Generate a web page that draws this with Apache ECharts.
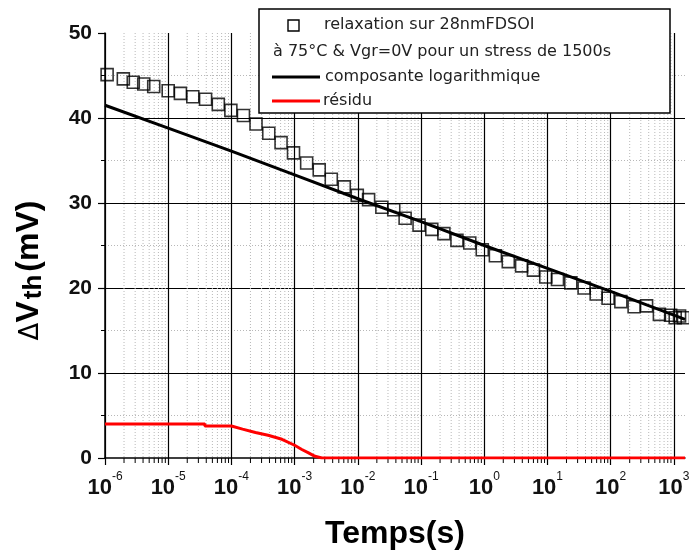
<!DOCTYPE html>
<html><head><meta charset="utf-8">
<script src="https://cdn.jsdelivr.net/npm/echarts@6/dist/echarts.min.js"></script>
<style>html,body{margin:0;padding:0;background:#fff}#c{width:689px;height:559px}</style>
</head><body><div id="c"></div>
<script>
// relaxation measurements (s, mV)
const relaxTime = [1.08e-6,1.95e-6,2.8e-6,4.1e-6,5.9e-6,1.0e-5,1.56e-5,2.45e-5,3.9e-5,6.2e-5,9.8e-5,1.55e-4,2.45e-4,3.9e-4,6.1e-4,9.6e-4,1.55e-3,2.45e-3,3.8e-3,6.1e-3,9.8e-3,1.48e-2,2.4e-2,3.7e-2,5.6e-2,9.3e-2,0.148,0.23,0.37,0.59,0.93,1.5,2.4,3.9,6.0,9.4,14.4,23.4,38,59,91,145,235,370,590,890,1050,1230,1420];
const relaxDVth = [45.1,44.6,44.2,44.0,43.7,43.2,42.9,42.5,42.2,41.6,40.9,40.3,39.3,38.2,37.1,35.9,34.7,33.9,32.8,31.9,30.9,30.4,29.5,29.2,28.2,27.4,26.9,26.4,25.6,25.3,24.5,23.8,23.1,22.6,22.1,21.3,21.0,20.6,20.0,19.3,18.8,18.4,17.8,17.9,16.9,16.8,16.5,16.7,16.5];
// logarithmic component
const logTime = [1e-6,1e-5,1e-4,1e-3,1e-2,1e-1,1,10,100,1000,1500];
const logDVth = [41.5,38.8,36.1,33.3,30.5,27.8,25.0,22.3,19.6,16.8,16.3];
// residual
const resTime = [1e-6,3.8e-5,3.8e-5,1e-4,1.5e-4,2.4e-4,3.8e-4,6.3e-4,1e-3,1.3e-3,1.66e-3,2.1e-3,2.7e-3,1500];
const resDVth = [4.0,4.0,3.76,3.76,3.4,3.0,2.67,2.2,1.5,1.0,0.6,0.2,0,0];
// axis ticks
const xMajorTicks = [1e-6,1e-5,1e-4,1e-3,1e-2,1e-1,1,10,100,1000];
const xMinorMultipliers = [2,3,4,5,6,7,8,9];
const legendLines = ['relaxation sur 28nmFDSOI','à 75°C & Vgr=0V pour un stress de 1500s','composante logarithmique','résidu'];

const xMinorTicks = [];
for (let i = 0; i < xMajorTicks.length - 1; i++) for (const m of xMinorMultipliers) xMinorTicks.push([+(m * xMajorTicks[i]).toPrecision(3), 0]);

const FF = 'Liberation Sans';
const chart = echarts.init(document.getElementById('c'), null, {renderer:'canvas'});
chart.setOption({
  animation: false,
  backgroundColor: '#fff',
  grid: {left:105, right:4, top:33, bottom:101, containLabel:false, outerBoundsMode:'none'},
  xAxis: {
    type:'log', logBase:10, min:1e-6, max:1500,
    name:'Temps(s)', nameLocation:'middle', nameGap:60, nameMoveOverlap:false,
    nameTextStyle:{fontSize:32, fontWeight:'bold', fontFamily:FF, color:'#000'},
    axisLine:{show:true, onZero:false, lineStyle:{color:'#000', width:1.5}},
    axisTick:{show:true, inside:false, length:7, customValues:xMajorTicks, lineStyle:{color:'#000', width:1.2}},
    splitLine:{show:true, lineStyle:{color:'#000', width:1.2}},
    minorTick:{show:false}, minorSplitLine:{show:false},
    axisLabel:{
      customValues:xMajorTicks, margin:12,
      formatter: v => '{b|10}{s|' + Math.round(Math.log10(v)) + '}',
      rich:{
        b:{fontSize:22, fontWeight:'bold', fontFamily:FF, color:'#111', padding:[7,0,0,0], verticalAlign:'middle'},
        s:{fontSize:12, fontFamily:FF, color:'#111', verticalAlign:'top', padding:[1,0,0,0]}
      }
    }
  },
  yAxis: {
    type:'value', min:0, max:50, interval:10,
    axisLine:{show:true, lineStyle:{color:'#000', width:1.5}},
    axisTick:{show:true, inside:false, length:7, lineStyle:{color:'#000', width:1.2}},
    minorTick:{show:true, splitNumber:2, length:4, lineStyle:{color:'#000', width:1}},
    splitLine:{show:true, showMaxLine:false, showMinLine:false, lineStyle:{color:'#000', width:1.2}},
    minorSplitLine:{show:true, lineStyle:{color:'#b8b8b8', width:1, type:[1,2]}},
    axisLabel:{fontSize:21, fontWeight:'bold', fontFamily:FF, color:'#111', margin:13},
    name:'{d|Δ}{v|V}{s|th}{v|(mV)}', nameLocation:'middle', nameRotate:90, nameGap:57, nameMoveOverlap:false,
    nameTextStyle:{
      padding:[0,50,0,0],
      rich:{
        d:{fontSize:26, fontFamily:'DejaVu Sans', color:'#000', padding:[5,0,0,0], verticalAlign:'middle'},
        v:{fontSize:32, fontWeight:'bold', fontFamily:FF, color:'#000', lineHeight:38, verticalAlign:'middle'},
        s:{fontSize:26, fontWeight:'bold', fontFamily:FF, color:'#000', padding:[10,3,0,2], verticalAlign:'middle'}
      }
    }
  },
  series: [
    {
      type:'custom', name:'minorgrid', silent:true, z:1, clip:false,
      data:xMinorTicks, encode:{x:0, y:1},
      renderItem:(params, api) => {
        const v = api.value(0);
        const b = api.coord([v, 0]);
        const t = api.coord([v, 50]);
        return {type:'group', children:[
          {type:'line', shape:{x1:b[0], y1:t[1], x2:b[0], y2:b[1]}, style:{stroke:'#b8b8b8', lineWidth:1, lineDash:[1,2]}},
          {type:'line', shape:{x1:b[0], y1:b[1], x2:b[0], y2:b[1]+5}, style:{stroke:'#000', lineWidth:1}}
        ]};
      }
    },
    {
      type:'scatter', name:legendLines[0], z:3,
      data: relaxTime.map((t,i) => [t, relaxDVth[i]]),
      symbol:'rect', symbolSize:12,
      itemStyle:{color:'rgba(0,0,0,0)', borderColor:'#000', borderWidth:1.6}
    },
    {
      type:'line', name:legendLines[2], z:4, showSymbol:false, symbol:'none',
      data: logTime.map((t,i) => [t, logDVth[i]]),
      lineStyle:{color:'#000', width:3}
    },
    {
      type:'line', name:legendLines[3], z:4, showSymbol:false, symbol:'none',
      data: resTime.map((t,i) => [t, resDVth[i]]),
      lineStyle:{color:'#ff0000', width:3}
    }
  ],
  graphic: [
    {type:'rect', z:100, shape:{x:259, y:9, width:411, height:104}, style:{fill:'#fff', stroke:'#000', lineWidth:1.5}},
    {type:'rect', z:101, shape:{x:288, y:20, width:11, height:11}, style:{fill:'none', stroke:'#000', lineWidth:1.4}},
    {type:'text', z:101, x:324, y:25, style:{text:legendLines[0], fontSize:16, fontFamily:'DejaVu Sans', fill:'#222', verticalAlign:'middle', align:'left'}},
    {type:'text', z:101, x:273, y:52, style:{text:legendLines[1], fontSize:16, fontFamily:'DejaVu Sans', fill:'#222', verticalAlign:'middle', align:'left'}},
    {type:'line', z:101, shape:{x1:272, y1:77, x2:320, y2:77}, style:{stroke:'#000', lineWidth:3}},
    {type:'text', z:101, x:325, y:77, style:{text:legendLines[2], fontSize:16, fontFamily:'DejaVu Sans', fill:'#222', verticalAlign:'middle', align:'left'}},
    {type:'line', z:101, shape:{x1:272, y1:101, x2:320, y2:101}, style:{stroke:'#ff0000', lineWidth:3}},
    {type:'text', z:101, x:323, y:101, style:{text:legendLines[3], fontSize:16, fontFamily:'DejaVu Sans', fill:'#222', verticalAlign:'middle', align:'left'}}
  ]
});
</script>
</body></html>
